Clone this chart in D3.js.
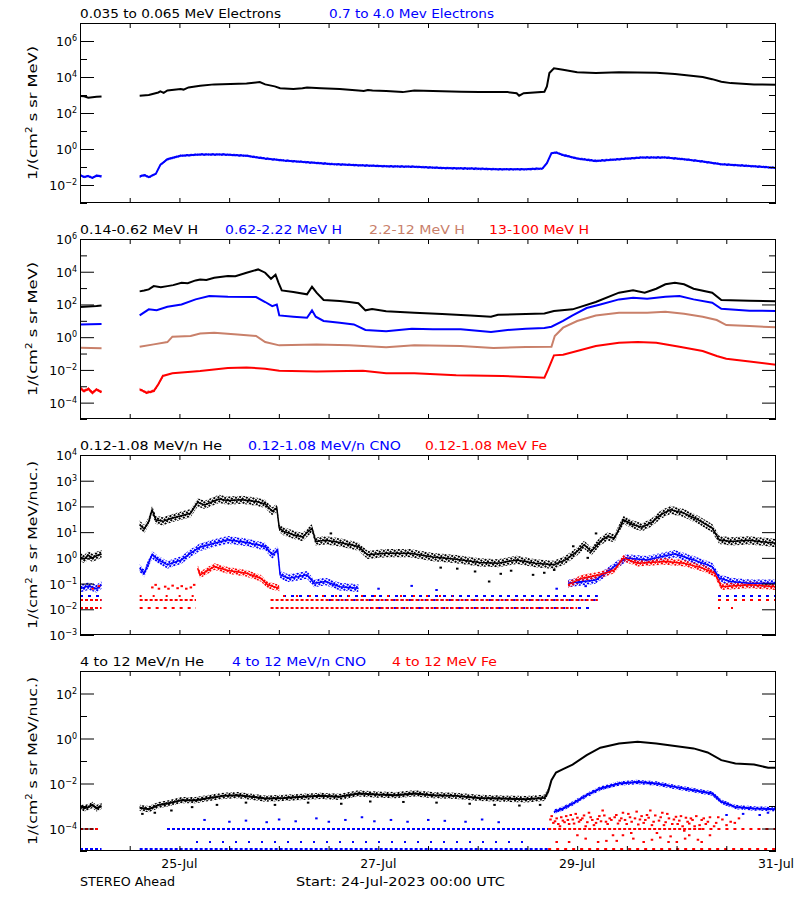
<!DOCTYPE html>
<html><head><meta charset="utf-8">
<script src="https://cdn.jsdelivr.net/npm/d3@7"></script>
<style>body{margin:0;background:#fff}svg{display:block}text{font-family:"DejaVu Sans",sans-serif;}</style>
</head><body><svg id="c" width="800" height="900"></svg>
<script>
// ---------------- DATA (hours since 24-Jul-2023 00:00 UTC, log10 of intensity) ----------------
const dayTickHours = [24, 72, 120, 168];
const dayTickLabels = ["25-Jul", "27-Jul", "29-Jul", "31-Jul"];

// Panel 1: electrons
const eLow = [[0,2.95],[1,2.93],[2,2.85],[3,2.88],[4,2.9],[5.2,2.92],[9,null],
[14.4,2.96],[16.6,3.0],[18.9,3.14],[19.4,3.2],[20.2,3.12],[21.1,3.25],[24.3,3.33],[25.0,3.3],[26.2,3.42],[29.0,3.51],[32.4,3.59],[36.3,3.61],[40.2,3.64],[43.4,3.72],[44.7,3.59],[47.0,3.48],[48.3,3.38],[51.5,3.33],[53.7,3.37],[54.8,3.42],[58.2,3.38],[62.7,3.33],[67.2,3.25],[68.5,3.22],[69.5,3.28],[70.6,3.25],[73.9,3.22],[77.9,3.16],[80.7,3.25],[85.2,3.22],[92.0,3.18],[96.4,3.16],[103.2,3.16],[105.4,3.1],[106.0,2.96],[107.1,3.1],[112.1,3.18],[112.7,3.48],[113.3,4.22],[114.4,4.48],[116.6,4.4],[120.0,4.26],[124.5,4.22],[130.1,4.26],[139.1,4.24],[143.6,4.16],[150.3,4.0],[152.6,3.88],[154.8,3.74],[157.1,3.66],[162.7,3.59],[168,3.57]];
const eHigh = [[0,-1.45],[1,-1.55],[2,-1.5],[3,-1.6],[4,-1.48],[5.2,-1.52],[9,null],
[14.4,-1.53],[15.5,-1.45],[16.6,-1.57],[18.3,-1.38],[19.4,-0.88],[21.1,-0.57],[24.3,-0.38],[29.0,-0.31],[34.6,-0.31],[40.2,-0.38],[44.7,-0.53],[49.2,-0.64],[54.8,-0.73],[60.5,-0.83],[67.2,-0.9],[73.9,-0.96],[80.7,-0.99],[87.4,-1.05],[94.2,-1.09],[100.9,-1.12],[107.6,-1.12],[111.6,-1.09],[112.7,-0.79],[113.8,-0.23],[114.9,-0.2],[116.6,-0.33],[120.0,-0.53],[124.5,-0.66],[130.1,-0.57],[135.7,-0.47],[141.3,-0.47],[145.8,-0.57],[150.3,-0.7],[154.8,-0.85],[161.6,-0.94],[168,-1.05]];

// Panel 2: protons
const hLow = [[0,1.85],[2,1.88],[4,1.9],[5.2,1.94],[9,null],
[14.4,2.8],[15.5,2.85],[16.6,2.92],[17.8,3.12],[19.5,3.05],[21.1,3.12],[22.5,3.18],[24.5,3.33],[26.0,3.3],[27.9,3.47],[29.0,3.53],[30.5,3.5],[32.4,3.63],[35.7,3.74],[37.5,3.72],[40.2,3.94],[43.0,4.14],[44.7,3.94],[46.1,3.57],[47.2,3.82],[47.9,3.33],[48.7,2.86],[51.5,2.76],[54.8,2.62],[56.0,3.08],[57.1,2.72],[58.8,2.27],[62.7,2.21],[65.0,2.15],[67.2,2.07],[68.9,1.64],[70.5,1.72],[73.9,1.58],[80.7,1.5],[87.4,1.41],[94.2,1.33],[99.2,1.25],[100.9,1.37],[107.6,1.41],[112.1,1.45],[114.4,1.6],[118.9,1.7],[124.5,2.15],[130.1,2.72],[133.5,2.86],[136.3,2.72],[139.1,2.96],[141.3,3.23],[143.6,3.33],[145.8,3.23],[148.1,2.96],[152.6,2.72],[154.8,2.27],[161.6,2.23],[168,2.19]];
const hMid = [[0,0.78],[5.2,0.8],[9,null],
[14.4,1.33],[16.6,1.7],[18.5,1.65],[21.1,1.86],[24.5,2.0],[27.9,2.31],[31.2,2.51],[35.7,2.47],[42.5,2.45],[44.7,2.15],[46.4,1.9],[47.5,2.0],[48.1,1.33],[51.5,1.25],[54.8,1.19],[56.0,1.64],[56.9,1.25],[58.8,0.99],[62.7,0.88],[66.1,0.78],[68.9,0.44],[73.9,0.37],[80.1,0.52],[85.2,0.48],[91.9,0.48],[99.2,0.31],[103.2,0.44],[107.6,0.52],[112.1,0.56],[113.8,0.64],[116.6,0.99],[118.9,1.33],[122.3,1.78],[125.6,2.0],[130.1,2.31],[133.5,2.41],[136.9,2.35],[141.3,2.47],[144.7,2.51],[148.1,2.31],[152.6,2.11],[154.8,1.74],[161.6,1.62],[168,1.6]];
const hHigh = [[0,-0.65],[5.2,-0.68],[9,null],
[14.4,-0.58],[17.8,-0.44],[21.1,-0.3],[22.3,0.03],[26.7,0.07],[29.0,0.23],[32.4,0.27],[38.0,0.17],[42.5,0.07],[44.7,-0.3],[48.1,-0.5],[57.1,-0.44],[65.0,-0.5],[73.9,-0.62],[80.7,-0.5],[91.9,-0.54],[99.8,-0.66],[107.6,-0.6],[113.8,-0.58],[114.6,0.07],[116.6,0.58],[120.0,0.99],[124.5,1.33],[130.1,1.5],[136.9,1.5],[141.3,1.56],[145.8,1.43],[150.3,1.25],[153.7,1.05],[156.0,0.74],[161.6,0.68],[168,0.6]];
const hVHigh = [[0,-3.1],[1,-3.3],[2,-3.15],[3,-3.4],[4,-3.2],[5.2,-3.35],[9,null],
[14.4,-3.19],[16.1,-3.39],[17.8,-3.29],[18.9,-2.88],[20.0,-2.37],[22.3,-2.21],[29.0,-2.07],[35.7,-1.89],[40.2,-1.85],[44.7,-1.93],[48.1,-2.05],[57.1,-2.09],[68.3,-2.05],[73.9,-2.21],[80.7,-2.21],[90.8,-2.33],[102.0,-2.37],[112.1,-2.48],[113.0,-1.97],[114.4,-1.11],[116.6,-1.07],[120.0,-0.85],[124.5,-0.54],[130.1,-0.34],[134.6,-0.3],[139.1,-0.34],[144.7,-0.58],[150.3,-0.85],[153.7,-1.15],[156.0,-1.32],[161.6,-1.48],[168,-1.68]];

// Panel 3: 0.12-1.08 MeV/n heavy ions
const heLow = [[0,0.05],[1,-0.05],[2,0.1],[3,0.0],[4,0.08],[5.2,0.15],[9,null],
[14.4,1.29],[15.5,1.12],[16.6,1.42],[17.4,1.87],[18.3,1.48],[20.0,1.42],[22.3,1.55],[24.5,1.64],[26.7,1.74],[28.4,2.16],[30.1,2.06],[33.5,2.29],[35.7,2.23],[39.1,2.26],[42.5,2.19],[44.7,2.1],[46.4,1.81],[47.5,1.94],[48.1,1.16],[49.2,1.03],[51.5,0.9],[53.7,0.81],[56.0,1.16],[56.9,0.64],[59.3,0.68],[62.7,0.6],[67.2,0.44],[69.4,0.12],[73.9,0.18],[79.6,0.18],[85.2,0.03],[90.8,-0.05],[96.4,-0.18],[100.9,-0.21],[105.4,-0.08],[109.9,-0.21],[114.4,-0.27],[117.2,-0.08],[120.0,0.25],[121.7,0.51],[123.4,0.25],[125.6,0.64],[127.3,0.83],[129.0,0.77],[131.2,1.48],[133.5,1.29],[135.7,1.19],[138.0,1.38],[140.2,1.68],[142.5,1.87],[145.8,1.74],[149.2,1.48],[152.6,1.16],[154.3,0.7],[157.1,0.64],[161.6,0.68],[168,0.57]];
const heLowPts = [[98.7,-0.92],[109.3,-0.66],[95.3,-0.53],[114.4,-0.47],[104,-0.5],[91,-0.42],[87,-0.38],[101.5,-0.62],[112,-0.58],[119,0.45],[122.5,0.0],[124.5,0.95],[60.5,0.95]];
const cnoLow = [[0,-1.2],[2,-1.1],[4,-1.2],[5.2,-1.05],[9,null],
[14.4,-0.4],[15.5,-0.6],[17.4,0.12],[18.9,-0.08],[21.1,-0.27],[24.5,-0.08],[26.7,0.18],[29.0,0.42],[32.4,0.57],[35.7,0.7],[40.2,0.6],[44.7,0.44],[46.4,0.12],[47.7,0.31],[48.3,-0.66],[50.3,-0.79],[52.6,-0.73],[54.8,-0.66],[56.5,-0.99],[59.3,-0.92],[62.7,-1.12],[67.2,-1.18],[68,null],
[117.8,-0.99],[124.5,-0.86],[130.1,-0.21],[131.8,-0.01],[136.9,-0.08],[141.3,0.08],[143.6,0.16],[148.1,-0.08],[152.6,-0.34],[154.3,-0.79],[157.1,-0.92],[161.6,-0.99],[168,-0.99]];
const cnoLowPts = [[80,-1.09],[72,-1.2],[86,-1.25],[120.5,-0.95],[122,-1.1],[115,-1.2]];
const feLow = [[28.4,-0.4],[29.0,-0.66],[32.4,-0.34],[35.7,-0.49],[40.2,-0.6],[43.6,-0.79],[45.3,-1.05],[48.1,-1.18],[49,null],
[117.8,-1.05],[121.1,-0.79],[125.6,-0.66],[129.0,-0.47],[131.2,-0.01],[134.6,-0.21],[141.3,-0.14],[145.8,-0.21],[150.3,-0.4],[153.2,-0.6],[154.8,-1.12],[161.6,-1.05],[168,-1.12]];
const feLowPts = [[17.4,-1.15],[18.2,-1.05],[19.0,-1.2],[20.5,-1.12],[21.3,-1.2],[22.3,-1.08],[23.5,-1.18],[24.5,-1.1],[25.6,-1.2],[26.7,-1.15],[27.5,-1.05],[3,-1.2],[4.5,-1.1]];
// count-floor rows: [startHour, endHour, log10 level, density]
const cnoLowFloor = [[0,5.2,-1.47,"m"],[49,125,-1.47,"m"],[154,168,-1.47,"m"],[0,5.2,-1.64,"d"],[60,125,-1.64,"m"],[154,168,-1.64,"m"],[70,123,-1.96,"m"]];
const feLowFloor = [[14.4,28,-1.47,"s"],[49,90,-1.47,"s"],[0,5.2,-1.64,"d"],[14.4,28,-1.64,"d"],[46,125,-1.64,"d"],[154,168,-1.64,"m"],[0,5.2,-1.96,"d"],[14.4,28,-1.96,"m"],[46,120,-1.96,"d"],[154,160,-1.96,"s"]];

// Panel 4: 4-12 MeV/n heavy ions
const heHigh = [[0,-3.0],[1,-3.1],[2,-3.05],[3,-2.95],[4,-3.1],[5.2,-3.0],[9,null],
[14.4,-3.08],[16.6,-3.14],[18.9,-2.96],[21.1,-2.89],[24.5,-2.74],[27.9,-2.74],[31.2,-2.64],[34.6,-2.55],[38.0,-2.52],[41.4,-2.59],[44.7,-2.67],[49.2,-2.64],[53.7,-2.59],[58.2,-2.55],[62.7,-2.59],[67.2,-2.44],[71.7,-2.49],[76.2,-2.52],[80.7,-2.44],[85.2,-2.52],[90.8,-2.55],[96.4,-2.64],[102.0,-2.67],[107.6,-2.7],[112.1,-2.64],[113.0,-2.37],[113.8,-1.85],[114.9,-1.51],[116.6,-1.36],[118.9,-1.16],[122.3,-0.74],[125.6,-0.41],[130.1,-0.22],[134.6,-0.15],[139.1,-0.22],[143.6,-0.33],[148.1,-0.44],[151.5,-0.62],[154.8,-0.96],[158.2,-1.11],[162.7,-1.16],[166.1,-1.3],[168,-1.3]];
const heHighPts = [[15,-3.35],[18,-3.3],[22,-3.2],[27,-3.05],[33,-2.95],[40,-2.85],[47,-2.95],[55,-2.85],[63,-2.9],[70,-2.8],[78,-2.82],[86,-2.85],[94,-2.9],[100,-2.95],[106,-2.98],[111,-2.95]];
const cnoHigh = [[114.4,-3.26],[116.6,-3.11],[118.9,-2.89],[122.3,-2.52],[125.6,-2.22],[130.1,-2.0],[134.6,-1.93],[139.1,-2.0],[143.6,-2.15],[148.1,-2.3],[152.6,-2.44],[154.8,-2.81],[158.2,-3.04],[162.7,-3.11],[168,-3.14]];
const cnoHighPts = [[30,-3.62],[36,-3.7],[40,-3.65],[45,-3.72],[48,-3.6],[52,-3.68],[57,-3.55],[60,-3.7],[64,-3.62],[68,-3.5],[71,-3.68],[75,-3.62],[79,-3.7],[84,-3.62],[88,-3.66],[93,-3.7],[97,-3.6],[101,-3.72],[156,-3.4],[160,-3.35],[164,-3.4],[166,-3.3]];
const feHighPts = [[113.5,-3.6],[114.2,-3.75],[115.0,-3.55],[115.8,-3.9],[116.5,-3.65],[117.3,-3.45],[118.0,-3.8],[118.9,-3.6],[119.6,-3.35],[120.4,-3.7],[121.2,-3.55],[122.0,-3.9],[122.8,-3.3],[123.6,-3.62],[124.5,-3.75],[125.3,-3.45],[126.1,-3.2],[126.9,-3.7],[127.8,-3.55],[128.6,-4.3],[129.4,-3.4],[130.2,-3.65],[131.0,-3.3],[131.9,-3.8],[132.7,-3.5],[133.5,-4.45],[134.3,-3.25],[135.1,-3.6],[136.0,-3.75],[136.8,-3.4],[137.6,-3.2],[138.4,-3.7],[139.2,-4.2],[140.1,-3.5],[140.9,-3.85],[141.7,-3.35],[142.5,-4.35],[143.3,-3.6],[144.2,-3.8],[145.0,-3.45],[145.8,-4.1],[146.6,-3.7],[147.4,-3.55],[148.3,-3.9],[149.1,-4.5],[150.0,-3.62],[151.0,-3.8],[152.0,-3.5],[153.5,-3.75],[155.0,-3.6],[157.0,-3.7],[159.0,-3.55],
[118,-4.6],[122,-4.45],[127,-4.55],[131,-4.3],[136,-4.6],[140,-4.4],[144,-4.6],[147,-4.3],
[113.8,-3.45],[114.6,-3.68],[115.4,-3.8],[116.1,-3.5],[116.9,-3.72],[117.7,-3.62],[118.4,-3.4],[119.2,-3.78],[120.0,-3.52],[120.8,-3.62],[121.6,-3.42],[122.4,-3.72],[123.2,-3.5],[124.0,-3.85],[124.9,-3.58],[125.7,-3.68],[126.5,-3.42],[127.3,-3.8],[128.2,-3.62],[129.0,-3.5],[129.8,-3.78],[130.6,-3.55],[131.5,-3.62],[132.3,-3.35],[133.1,-3.7],[133.9,-3.55],[134.7,-3.82],[135.5,-3.45],[136.4,-3.62],[137.2,-3.52],[138.0,-3.85],[138.8,-3.42],[139.7,-3.65],[140.5,-3.3],[141.3,-3.72],[142.1,-3.55],[142.9,-3.8],[143.8,-3.48],[144.6,-3.65],[145.4,-3.9],[146.2,-3.52],[147.0,-3.78],[147.8,-3.62],[148.7,-3.45],[149.5,-3.85],[150.5,-3.55],[151.5,-3.7],[153,-3.9],[154,-3.5],[156,-3.85],[158,-3.75],
[115,-4.6],[120,-4.3],[125,-4.6],[129.5,-4.55],[133,-4.2],[138,-4.5],[142,-4.6],[146,-4.45],[150,-4.6],[152,-4.3]];
const cnoHighFloor = [[21,113,-4.0,"d"],[28,108,-4.6,"s"],[0,5.2,-4.89,"d"],[14.4,113,-4.89,"d"]];
const feHighFloor = [[0,4.5,-4.0,"d"],[113,150,-4.0,"d"],[150,168,-4.0,"m"],[113,168,-4.89,"m"]];

// ---------------- DRAWING ----------------
const C = {k:"#000000", b:"#0000ff", br:"#c9806a", r:"#ff0000"};
const DASH = {d:"3,2", m:"3,5", s:"2,11"};
const svg = d3.select("#c");
svg.append("rect").attr("width",800).attr("height",900).attr("fill","#fff");
const defs = svg.append("defs");
Object.entries(C).forEach(([k,col])=>{
  const p = defs.append("pattern").attr("id","dots-"+k).attr("patternUnits","userSpaceOnUse")
    .attr("width",3).attr("height",3).attr("patternTransform","rotate(33)");
  p.append("rect").attr("x",0).attr("y",0).attr("width",2).attr("height",2).attr("fill",col);
});

const L = 80, R = 776, PH = 180;
const x = d3.scaleLinear().domain([0,168]).range([L,R]);
const sup = (t, base, exp) => { t.text(base); t.append("tspan").attr("dy",-5).attr("font-size",8).text(exp); };

const panels = [
 {top:23, dom:[-3,7], major:[6,4,2,0,-2], minor:[7,5,3,1,-1,-3], title:"MeV)", tlen:134,
  legend:[["0.035 to 0.065 MeV Electrons",C.k,80,201],["0.7 to 4.0 Mev Electrons",C.b,329,165]],
  lines:[[eLow,C.k,2],[eHigh,C.b,2]], bands:[[eHigh,"b",0.07,0,168]], floors:[], pts:[]},
 {top:239, dom:[-5,6], major:[6,4,2,0,-2,-4], minor:[5,3,1,-1,-3,-5], title:"MeV)", tlen:134,
  legend:[["0.14-0.62 MeV H",C.k,80,118],["0.62-2.22 MeV H",C.b,225,117],["2.2-12 MeV H",C.br,369,96],["13-100 MeV H",C.r,489,100]],
  lines:[[hLow,C.k,2],[hMid,C.b,2],[hHigh,C.br,2],[hVHigh,C.r,2]], bands:[[hVHigh,"r",0.1,0,20]], floors:[], pts:[]},
 {top:455, dom:[-3,4], major:[4,3,2,1,0,-1,-2,-3], minor:[], title:"MeV/nuc.)", tlen:168,
  legend:[["0.12-1.08 MeV/n He",C.k,80,142],["0.12-1.08 MeV/n CNO",C.b,248,153],["0.12-1.08 MeV Fe",C.r,425,122]],
  lines:[[heLow,C.k,1.5],[cnoLow,C.b,1.5],[feLow,C.r,1.5]], bands:[[heLow,"k",0.16,0,168],[cnoLow,"b",0.15,0,168],[feLow,"r",0.13,0,168]],
  floors:[[cnoLowFloor,C.b],[feLowFloor,C.r]], pts:[[feLowPts,C.r],[heLowPts,C.k],[cnoLowPts,C.b]]},
 {top:671, dom:[-5,3], major:[2,0,-2,-4], minor:[3,1,-1,-3,-5], title:"MeV/nuc.)", tlen:168,
  legend:[["4 to 12 MeV/n He",C.k,80,124],["4 to 12 MeV/n CNO",C.b,232,134],["4 to 12 MeV Fe",C.r,392,105]],
  lines:[[heHigh,C.k,2],[cnoHigh,C.b,2]], bands:[[heHigh,"k",0.14,0,113],[cnoHigh,"b",0.1,0,168]],
  floors:[[cnoHighFloor,C.b],[feHighFloor,C.r]], pts:[[cnoHighPts,C.b],[feHighPts,C.r],[heHighPts,C.k]]}
];

panels.forEach(p=>{
  const top=p.top, bot=top+PH;
  const y = d3.scaleLog().domain([10**p.dom[0],10**p.dom[1]]).range([bot,top]);
  const g = svg.append("g");
  const clip = "clip"+top;
  defs.append("clipPath").attr("id",clip).append("rect").attr("x",L).attr("y",top).attr("width",R-L).attr("height",PH);
  const plot = g.append("g").attr("clip-path",`url(#${clip})`);
  const fy = d => y(10**d[1]);
  p.floors.forEach(([rows,col])=>{
    plot.selectAll(null).data(rows).join("line")
      .attr("x1",d=>x(d[0])).attr("x2",d=>x(d[1]))
      .attr("y1",d=>Math.round(y(10**d[2]))).attr("y2",d=>Math.round(y(10**d[2])))
      .attr("stroke",col).attr("stroke-width",2).attr("stroke-dasharray",d=>DASH[d[3]]);
  });
  p.bands.forEach(([data,key,w,h0,h1])=>{
    const area = d3.area().defined(d=>d[1]!==null && d[0]>=h0 && d[0]<=h1).x(d=>x(d[0]))
      .y0(d=>y(10**(d[1]-w))).y1(d=>y(10**(d[1]+w)));
    plot.append("path").datum(data).attr("d",area).attr("fill",`url(#dots-${key})`);
  });
  p.lines.forEach(([data,col,sw])=>{
    const line = d3.line().defined(d=>d[1]!==null).x(d=>x(d[0])).y(fy);
    plot.append("path").datum(data).attr("d",line).attr("fill","none").attr("stroke",col).attr("stroke-width",sw);
  });
  p.pts.forEach(([data,col])=>{
    plot.selectAll(null).data(data).join("rect")
      .attr("x",d=>x(d[0])-1).attr("y",d=>fy(d)-1).attr("width",2.5).attr("height",2).attr("fill",col);
  });
  g.append("rect").attr("x",L+0.5).attr("y",top+0.5).attr("width",R-L-1).attr("height",PH-1)
    .attr("fill","none").attr("stroke","#000").attr("stroke-width",1);
  const yt = (vals,len)=>{
    g.append("g").attr("transform",`translate(${L},0)`).call(d3.axisLeft(y).tickValues(vals.map(e=>10**e)).tickSize(-len).tickSizeOuter(0).tickFormat(""));
    g.append("g").attr("transform",`translate(${R},0)`).call(d3.axisRight(y).tickValues(vals.map(e=>10**e)).tickSize(-len).tickSizeOuter(0).tickFormat(""));
  };
  yt(p.major,14); yt(p.minor,7);
  const xt = d3.range(12,168,12);
  g.append("g").attr("transform",`translate(0,${top})`).call(d3.axisTop(x).tickValues(xt).tickSize(-5).tickSizeOuter(0).tickFormat(""));
  g.append("g").attr("transform",`translate(0,${bot})`).call(d3.axisBottom(x).tickValues(xt).tickSize(-5).tickSizeOuter(0).tickFormat(""));
  g.selectAll(".domain").remove();
  g.selectAll(".tick line").attr("stroke","#000");
  p.major.forEach(e=>{
    const t = g.append("text").attr("x",77).attr("y",y(10**e)+5).attr("text-anchor","end").attr("font-size",12.5);
    sup(t,"10",String(e).replace("-","\u2212"));
  });
  const tt = g.append("text").attr("transform",`translate(37,${top+PH/2}) rotate(-90)`).attr("text-anchor","middle").attr("font-size",12.5)
    .attr("textLength",p.tlen).attr("lengthAdjust","spacingAndGlyphs");
  tt.text("1/(cm"); tt.append("tspan").attr("dy",-5).attr("font-size",8).text("2");
  tt.append("tspan").attr("dy",5).text(" s sr "+p.title);
  p.legend.forEach(([txt,col,lx,lw])=>{
    g.append("text").attr("x",lx).attr("y",top-5).attr("fill",col).attr("font-size",12.5)
      .attr("textLength",lw).attr("lengthAdjust","spacingAndGlyphs").text(txt);
  });
});

svg.selectAll(".dl").data(dayTickHours).join("text").attr("class","dl")
  .attr("x",d=>x(d)).attr("y",868).attr("text-anchor","middle").attr("font-size",12.5)
  .text((d,i)=>dayTickLabels[i]);
svg.append("text").attr("x",80).attr("y",886).attr("font-size",12.5).attr("textLength",95).attr("lengthAdjust","spacingAndGlyphs").text("STEREO Ahead");
svg.append("text").attr("x",296).attr("y",886).attr("font-size",12.5).attr("textLength",209).attr("lengthAdjust","spacingAndGlyphs").text("Start: 24-Jul-2023 00:00 UTC");
</script></body></html>
